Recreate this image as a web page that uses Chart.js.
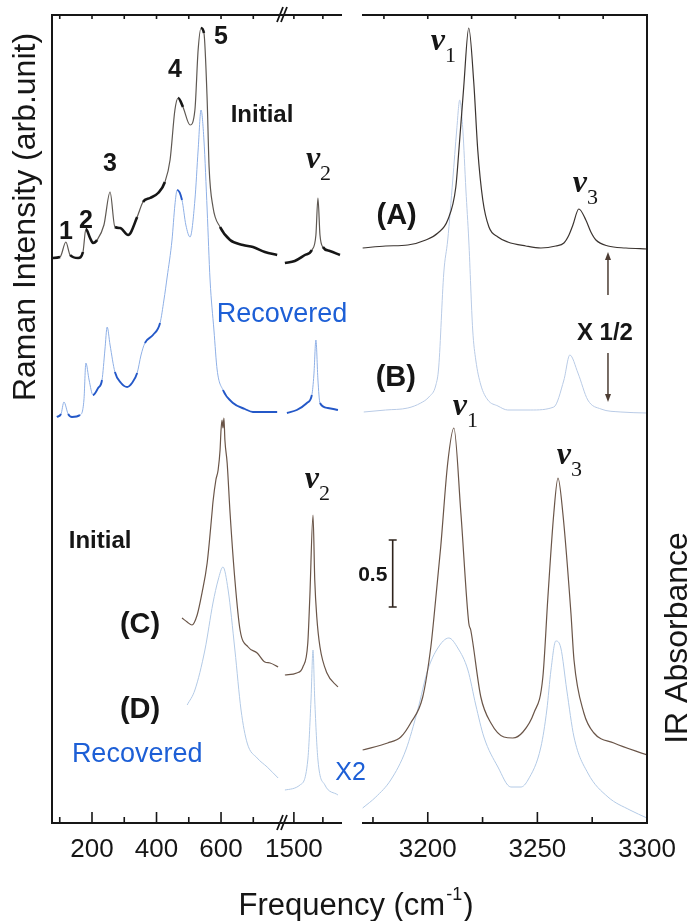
<!DOCTYPE html>
<html lang="en">
<head>
<meta charset="UTF-8">
<title>Raman and IR spectra</title>
<script src="https://cdn.jsdelivr.net/npm/chart.js"></script>
<style>
  html, body { margin: 0; padding: 0; background: #fff; }
  #wrap { width: 691px; height: 921px; }
</style>
</head>
<body>
<div id="wrap"><canvas id="spectra" width="691" height="921"></canvas></div>
<script>
// ---- data (frequency in cm-1, intensity in arb. units above each trace's own baseline) ----

// (A) Raman, initial
const ramanInitLatF = [76,101,119,132,157,172,181,194,203,216,237,256,271,287,312,340,358,380,405,426,442,457,467,482,504,519,529,538,547,557,563,575,597,628,668,699,736,774];
const ramanInitLatI = [0,1,16,3,0,6,29,20,15,18,33,66,31,30,23,41,56,60,65,76,98,148,160,151,133,148,208,230,225,158,91,51,31,18,13,11,6,3];
const ramanInitBendF = [1469,1503,1538,1562,1576,1583,1590,1600,1624,1659];
const ramanInitBendI = [-5,-3,3,8,23,60,23,11,7,3];
const ramanInitStrF = [3170.3,3180.8,3190.9,3199.1,3204.6,3209.1,3212.8,3214.2,3216.4,3218.7,3221.0,3222.8,3225.1,3227.9,3232,3236.5,3244.7,3251.6,3258.4,3262.1,3264.4,3266.2,3268.9,3272.1,3274.4,3276.7,3282.2,3290.4,3300];
const ramanInitStrI = [10,12,13,18,25,38,71,108,171,230,175,108,58,31,21,16,12,10,12,15,23,33,49,38,26,18,12,10,9];

// (B) Raman, recovered
const ramanRecLatF = [91,104,113,126,138,163,175,181,191,203,219,231,240,247,256,271,290,309,324,340,352,364,389,411,423,433,448,457,464,479,491,504,519,529,538,547,557,566,578,588,606,637,674,699,736,774];
const ramanRecLatI = [-4,-1,11,-1,-4,-2,13,50,33,18,25,33,63,86,68,41,30,26,30,40,58,70,78,90,113,136,173,208,223,213,188,176,213,263,303,273,203,133,83,43,23,10,4,1,1,1];
const ramanRecBendF = [1476,1510,1545,1562,1569,1576,1583,1590,1617,1652];
const ramanRecBendI = [0,3,10,18,38,73,33,10,5,3];
const ramanRecStrF = [3170.8,3180.8,3190.9,3196.8,3200.5,3203.7,3205,3207.3,3209.1,3211.4,3213.2,3214.6,3216,3217.4,3218.7,3220.5,3221.9,3224.2,3227.4,3232,3236.5,3247,3257.5,3262.1,3264.8,3268.5,3273,3279,3288.1,3300];
const ramanRecStrI = [1,3,5,10,16,28,46,140,173,233,283,313,283,223,173,83,53,28,13,7,3,3,6,33,58,40,13,4,1,0];

// (C) IR, initial
const irInitLatF = [479,495,510,526,541,557,572,575,584,591,597,600,603,606,609,612,619,628,643,659,684,712,736,752,777];
const irInitLatI = [142,138,135,145,167,197,247,258,280,290,310,330,340,332,342,320,297,247,180,130,113,107,98,97,93];
const irInitBendF = [1469,1510,1531,1548,1555,1566,1572,1579,1590,1614,1652];
const irInitBendI = [85,87,93,117,163,245,180,143,113,87,73];
const irInitStrF = [3170.3,3181.7,3187.7,3192.2,3197.7,3201.4,3202.7,3205.9,3209.1,3211.9,3215.1,3218.7,3219.6,3224.2,3228.8,3234.7,3238.8,3243.4,3248.4,3252.5,3254.8,3257.5,3259.4,3261.6,3265.3,3266.7,3271.2,3275.8,3284.9,3300];
const irInitStrI = [10,17,23,37,63,113,140,213,297,332,247,137,130,63,37,23,22,28,47,83,163,247,282,247,147,100,47,27,17,5];

// (D) IR, recovered (x2)
const irRecLatF = [495,519,550,575,591,606,622,643,662,681,712,743,777];
const irRecLatI = [115,130,170,217,240,253,230,170,110,77,62,53,42];
const irRecBendF = [1469,1521,1548,1559,1566,1572,1583,1607,1652];
const irRecBendI = [30,35,60,120,170,120,60,35,25];
const irRecStrF = [3170.3,3176.3,3183.1,3190,3195.4,3200,3204.6,3209.6,3213.7,3218.3,3221.9,3225.6,3232,3237.9,3242.5,3245.7,3251.6,3254.3,3256.2,3258.4,3260.7,3263.4,3266.7,3273,3282.2,3292.2,3300];
const irRecStrI = [12,23,40,70,110,150,172,182,172,150,115,83,53,33,33,40,73,110,150,179,172,130,83,47,23,10,2];

// vertical offsets of the stacked spectra
const baseA = 565, baseB = 410, baseC = 63, baseD = 3;

// axis ticks
const latTicks = [100,200,300,400,500,600,700];
const latLabels = [200,400,600];
const bendTicks = [1500,1600];
const bendLabels = [1500];
const strTicks = [3175,3200,3225,3250,3275,3300];
const strLabels = [3200,3250,3300];
const strTopTicks = [3180,3200,3220,3240,3260,3280];

// ---- styling ----
const SANS = '"Liberation Sans", Arial, sans-serif';
const SERIF = '"Liberation Serif", "Times New Roman", serif';
const INK = '#161616';
const BLUE = '#1d5fd6';

// scanned look: flat stretches come out dark and heavy, steep flanks thin and pale
function slopeStyle(flatColor, steepColor, flatWidth, steepWidth) {
    const steep = c => Math.abs(c.p1.y - c.p0.y) > 2.2 * Math.abs(c.p1.x - c.p0.x);
    return {
        borderColor: c => steep(c) ? steepColor : flatColor,
        borderWidth: c => steep(c) ? steepWidth : flatWidth
    };
}

function trace(axis, f, inten, base, color, width, segment) {
    return {
        xAxisID: axis,
        yAxisID: 'y',
        data: f.map((x, i) => ({ x: x, y: inten[i] + base })),
        borderColor: color,
        borderWidth: width,
        pointRadius: 0,
        fill: false,
        cubicInterpolationMode: 'monotone',
        segment: segment || {}
    };
}

function freqAxis(min, max, weight, ticks, labels) {
    return {
        type: 'linear', axis: 'x', position: 'bottom',
        stack: 'freq', stackWeight: weight,
        min: min, max: max,
        grid: { display: false, drawTicks: false },
        border: { display: false },
        afterBuildTicks: s => { s.ticks = ticks.map(v => ({ value: v })); },
        afterFit: s => { s.height = 98; },
        ticks: {
            autoSkip: false, maxRotation: 0, minRotation: 0, padding: 11, color: INK,
            font: { family: SANS, size: 26 },
            callback: v => labels.includes(v) ? String(v) : ''
        }
    };
}

// text annotations, placed in data coordinates
const notes = [
    { axis: 'x1', f: 119, v: 591, text: '1', font: 'bold 25px ' + SANS, color: INK },
    { axis: 'x1', f: 181, v: 602, text: '2', font: 'bold 25px ' + SANS, color: INK },
    { axis: 'x1', f: 256, v: 659, text: '3', font: 'bold 25px ' + SANS, color: INK },
    { axis: 'x1', f: 457, v: 753, text: '4', font: 'bold 25px ' + SANS, color: INK },
    { axis: 'x1', f: 600, v: 786, text: '5', font: 'bold 25px ' + SANS, color: INK },
    { axis: 'x1', f: 727, v: 708, text: 'Initial', font: 'bold 24px ' + SANS, color: INK },
    { axis: 'x1', f: 789, v: 508, text: 'Recovered', font: '27px ' + SANS, color: BLUE },
    { axis: 'x3', f: 3185.8, v: 607, text: '(A)', font: 'bold 29px ' + SANS, color: INK },
    { axis: 'x3', f: 3185.4, v: 445, text: '(B)', font: 'bold 29px ' + SANS, color: INK },
    { axis: 'x3', f: 3280.8, v: 490, text: 'X 1/2', font: 'bold 24px ' + SANS, color: INK },
    { axis: 'x1', f: 225, v: 282, text: 'Initial', font: 'bold 24px ' + SANS, color: INK },
    { axis: 'x1', f: 349, v: 198, text: '(C)', font: 'bold 29px ' + SANS, color: INK },
    { axis: 'x1', f: 349, v: 113, text: '(D)', font: 'bold 29px ' + SANS, color: INK },
    { axis: 'x1', f: 340, v: 68, text: 'Recovered', font: '27px ' + SANS, color: BLUE },
    { axis: 'x3', f: 3164.8, v: 50, text: 'X2', font: '25px ' + SANS, color: BLUE },
    { axis: 'x3', f: 3174.9, v: 248, text: '0.5', font: 'bold 21px ' + SANS, color: INK }
];

// mode labels (nu with subscript), centre of the nu glyph
const modes = [
    { axis: 'x2', f: 1566, v: 663, sub: '2' },
    { axis: 'x3', f: 3204.6, v: 781, sub: '1' },
    { axis: 'x3', f: 3269.4, v: 639, sub: '3' },
    { axis: 'x2', f: 1562, v: 343, sub: '2' },
    { axis: 'x3', f: 3214.6, v: 416, sub: '1' },
    { axis: 'x3', f: 3262.1, v: 367, sub: '3' }
];

const arrows = [
    { axis: 'x3', f: 3282.2, from: 528, to: 571 },
    { axis: 'x3', f: 3282.2, from: 470, to: 421 }
];
const scaleBar = { axis: 'x3', f: 3184, from: 216, to: 283 };

const decorations = {
    id: 'decorations',
    afterDraw(chart) {
        const ctx = chart.ctx;
        const { x1, x2, x3, y } = chart.scales;
        const top = chart.chartArea.top, bottom = chart.chartArea.bottom;

        ctx.save();
        ctx.strokeStyle = INK;
        ctx.lineCap = 'butt';

        // frame (broken between the panels)
        ctx.lineWidth = 2;
        ctx.beginPath();
        ctx.moveTo(x1.left, top); ctx.lineTo(x1.left, bottom);
        ctx.moveTo(x1.left - 1, bottom); ctx.lineTo(x2.right, bottom);
        ctx.moveTo(x1.left - 1, top); ctx.lineTo(x2.right, top);
        ctx.moveTo(x3.left, bottom); ctx.lineTo(x3.right + 1, bottom);
        ctx.moveTo(x3.left, top); ctx.lineTo(x3.right + 1, top);
        ctx.moveTo(x3.right, top); ctx.lineTo(x3.right, bottom);
        ctx.stroke();

        // inward tick marks
        ctx.lineWidth = 1.6;
        ctx.beginPath();
        [[x1, latTicks, latLabels, latTicks], [x2, bendTicks, bendLabels, bendTicks], [x3, strTicks, strLabels, strTopTicks]]
            .forEach(([s, bt, lab, tt]) => {
                bt.forEach(v => {
                    const p = s.getPixelForValue(v);
                    ctx.moveTo(p, bottom); ctx.lineTo(p, bottom - (lab.includes(v) ? 11 : 6));
                });
                tt.forEach(v => {
                    const p = s.getPixelForValue(v);
                    ctx.moveTo(p, top); ctx.lineTo(p, top + 4);
                });
            });
        ctx.stroke();

        // axis break marks
        const bx = x2.left;
        ctx.lineWidth = 1.8;
        ctx.beginPath();
        [top, bottom].forEach(yy => {
            ctx.moveTo(bx - 5, yy + 7); ctx.lineTo(bx + 1, yy - 8);
            ctx.moveTo(bx - 1, yy + 7); ctx.lineTo(bx + 5, yy - 8);
        });
        ctx.stroke();

        // text notes
        ctx.textAlign = 'center';
        ctx.textBaseline = 'middle';
        notes.forEach(n => {
            ctx.font = n.font;
            ctx.fillStyle = n.color;
            ctx.fillText(n.text, chart.scales[n.axis].getPixelForValue(n.f), y.getPixelForValue(n.v));
        });

        // nu labels
        modes.forEach(m => {
            const cx = chart.scales[m.axis].getPixelForValue(m.f);
            const cy = y.getPixelForValue(m.v);
            ctx.fillStyle = INK;
            ctx.font = 'bold italic 32px ' + SERIF;
            ctx.textAlign = 'center';
            ctx.textBaseline = 'alphabetic';
            const w = ctx.measureText('\u03bd').width;
            const base = cy + 7.5;
            ctx.fillText('\u03bd', cx, base);
            ctx.font = '22px ' + SERIF;
            ctx.textAlign = 'left';
            ctx.fillText(m.sub, cx + w / 2, base + 12);
        });

        // X 1/2 arrows
        ctx.strokeStyle = '#4d3d33';
        ctx.fillStyle = '#4d3d33';
        ctx.lineWidth = 1.5;
        arrows.forEach(a => {
            const ax = chart.scales[a.axis].getPixelForValue(a.f);
            const y0 = y.getPixelForValue(a.from), y1 = y.getPixelForValue(a.to);
            const dir = Math.sign(y1 - y0);
            ctx.beginPath();
            ctx.moveTo(ax, y0); ctx.lineTo(ax, y1 - dir * 6);
            ctx.stroke();
            ctx.beginPath();
            ctx.moveTo(ax, y1); ctx.lineTo(ax - 3, y1 - dir * 8); ctx.lineTo(ax + 3, y1 - dir * 8);
            ctx.closePath();
            ctx.fill();
        });

        // 0.5 absorbance scale bar
        const sx = chart.scales[scaleBar.axis].getPixelForValue(scaleBar.f);
        const sy0 = y.getPixelForValue(scaleBar.from), sy1 = y.getPixelForValue(scaleBar.to);
        ctx.strokeStyle = '#2e231c';
        ctx.lineWidth = 1.6;
        ctx.beginPath();
        ctx.moveTo(sx, sy0); ctx.lineTo(sx, sy1);
        ctx.moveTo(sx - 4, sy0); ctx.lineTo(sx + 4, sy0);
        ctx.moveTo(sx - 4, sy1); ctx.lineTo(sx + 4, sy1);
        ctx.stroke();

        // axis titles
        ctx.fillStyle = INK;
        ctx.font = '32px ' + SANS;
        ctx.textAlign = 'center';
        ctx.textBaseline = 'alphabetic';
        ctx.save();
        ctx.translate(35, 217);
        ctx.rotate(-Math.PI / 2);
        ctx.fillText('Raman Intensity (arb.unit)', 0, 0);
        ctx.restore();
        ctx.save();
        ctx.translate(687, 638);
        ctx.rotate(-Math.PI / 2);
        ctx.fillText('IR Absorbance', 0, 0);
        ctx.restore();

        // Frequency (cm^-1)
        const main = 'Frequency (cm', sup = '-1', close = ')';
        ctx.font = '31px ' + SANS;
        const wMain = ctx.measureText(main).width, wClose = ctx.measureText(close).width;
        ctx.font = '18px ' + SANS;
        const wSup = ctx.measureText(sup).width;
        let tx = 356 - (wMain + wSup + wClose + 2) / 2;
        ctx.textAlign = 'left';
        ctx.font = '31px ' + SANS;
        ctx.fillText(main, tx, 915);
        tx += wMain + 1;
        ctx.font = '18px ' + SANS;
        ctx.fillText(sup, tx, 900);
        tx += wSup + 1;
        ctx.font = '31px ' + SANS;
        ctx.fillText(close, tx, 915);

        ctx.restore();
    }
};

const blackScan = slopeStyle('#161616', '#5e5852', 2.6, 1.2);
const blueScan = slopeStyle('#2458c8', '#8fb0e6', 1.9, 1);

new Chart(document.getElementById('spectra'), {
    type: 'line',
    data: {
        datasets: [
            trace('x1', ramanInitLatF, ramanInitLatI, baseA, '#1c1c1c', 2.2, blackScan),
            trace('x2', ramanInitBendF, ramanInitBendI, baseA, '#1c1c1c', 2.2, blackScan),
            trace('x3', ramanInitStrF, ramanInitStrI, baseA, '#3b3430', 1.2),
            trace('x1', irInitLatF, irInitLatI, baseC, '#6a5548', 1.2),
            trace('x2', irInitBendF, irInitBendI, baseC, '#6a5548', 1.2),
            trace('x3', irInitStrF, irInitStrI, baseC, '#6a5548', 1.2),
            trace('x1', ramanRecLatF, ramanRecLatI, baseB, '#2a62d0', 1.5, blueScan),
            trace('x2', ramanRecBendF, ramanRecBendI, baseB, '#2a62d0', 1.5, blueScan),
            trace('x3', ramanRecStrF, ramanRecStrI, baseB, '#b9cbe6', 1),
            trace('x1', irRecLatF, irRecLatI, baseD, '#b3cae6', 1),
            trace('x2', irRecBendF, irRecBendI, baseD, '#b3cae6', 1),
            trace('x3', irRecStrF, irRecStrI, baseD, '#b3cae6', 1)
        ]
    },
    options: {
        responsive: false,
        animation: false,
        layout: { padding: { left: 52, right: 44, top: 15, bottom: 0 } },
        plugins: {
            legend: { display: false },
            tooltip: { enabled: false }
        },
        scales: {
            x1: freqAxis(76, 789, 230, latTicks, latLabels),
            x2: freqAxis(1459, 1666, 60, bendTicks, bendLabels),
            xgap: {
                type: 'linear', axis: 'x', position: 'bottom',
                stack: 'freq', stackWeight: 20, min: 0, max: 1,
                grid: { display: false, drawTicks: false },
                border: { display: false },
                ticks: { display: false },
                afterFit: s => { s.height = 98; }
            },
            x3: freqAxis(3170, 3300, 285, strTicks, strLabels),
            y: { type: 'linear', display: false, min: 0, max: 808 }
        }
    },
    plugins: [decorations]
});
</script>
</body>
</html>
